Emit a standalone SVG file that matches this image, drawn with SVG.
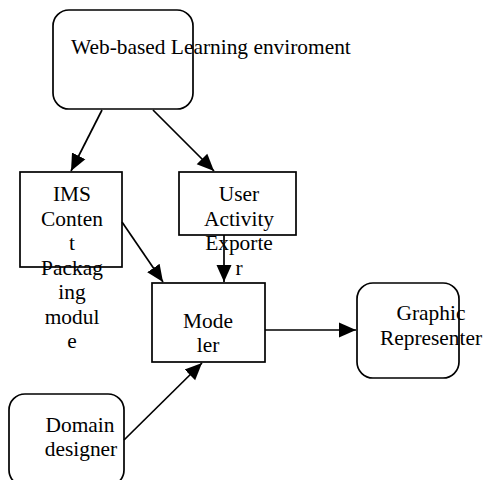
<svg xmlns="http://www.w3.org/2000/svg" width="483" height="480" viewBox="0 0 483 480">
<style>
.box{fill:#fff;stroke:#000;stroke-width:1.7}
.t{font-family:"Liberation Serif","Times New Roman",serif;font-size:21.4px;fill:#000}
.c{text-anchor:middle}
.e{stroke:#000;stroke-width:1.7;fill:none;marker-end:url(#ah)}
</style>
<defs>
<marker id="ah" markerUnits="userSpaceOnUse" markerWidth="18" markerHeight="18" viewBox="0 0 18 18" refX="17" refY="9" orient="auto">
<path d="M0,1.5 L17,9 L0,16.5 Z" fill="#000"/>
</marker>
</defs>
<rect width="483" height="480" fill="#fff"/>
<g id="web">
<rect class="box" x="53" y="10" width="140" height="99" rx="16"/>
</g>
<g id="ims">
<rect class="box" x="20" y="172" width="102" height="95"/>
</g>
<g id="user">
<rect class="box" x="179" y="172" width="117" height="63"/>
</g>
<g id="modeler">
<rect class="box" x="152" y="283" width="113" height="79"/>
<text class="t c" x="208" y="327.5">Mode</text>
<text class="t c" x="208" y="352">ler</text>
</g>
<g id="graphic">
<rect class="box" x="357" y="283" width="102" height="95" rx="16"/>
<text class="t c" x="431" y="320">Graphic</text>
<text class="t c" x="431" y="345">Representer</text>
</g>
<g id="domain">
<rect class="box" x="9" y="394" width="115" height="92" rx="16"/>
<text class="t c" x="80" y="432">Domain</text>
<text class="t c" x="81" y="456">designer</text>
</g>
<g id="connectors">
<line class="e" x1="102" y1="110" x2="71" y2="171"/>
<line class="e" x1="153" y1="110" x2="214" y2="171"/>
<line class="e" x1="122" y1="222" x2="163" y2="282"/>
<line class="e" x1="224" y1="235" x2="224" y2="282"/>
<line class="e" x1="265" y1="330" x2="356" y2="330"/>
<line class="e" x1="124" y1="440" x2="202" y2="363"/>
</g>
<g id="labels">
<text class="t" x="71" y="54">Web-based Learning enviroment</text>
<g class="t c">
<text x="72" y="201">IMS</text>
<text x="72" y="225.5">Conten</text>
<text x="72" y="250">t</text>
<text x="72" y="274.5">Packag</text>
<text x="72" y="299">ing</text>
<text x="72" y="323.5">modul</text>
<text x="72" y="348">e</text>
</g>
<g class="t c">
<text x="239" y="201">User</text>
<text x="239" y="225.5">Activity</text>
<text x="239" y="250">Exporte</text>
<text x="239" y="274.5">r</text>
</g>
</g>
</svg>
